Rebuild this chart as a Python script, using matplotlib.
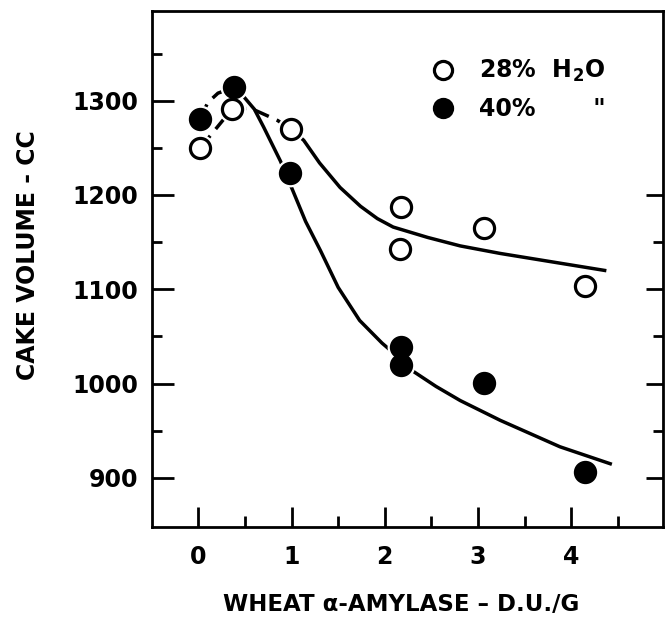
import numpy as np
import matplotlib.pyplot as plt

plt.rcParams['font.family'] = ['DejaVu Sans']
plt.rcParams['font.weight'] = 'bold'
plt.rcParams['mathtext.fontset'] = 'custom'
plt.rcParams['mathtext.rm'] = 'DejaVu Sans:bold'
plt.rcParams['mathtext.it'] = 'DejaVu Sans:bold'
plt.rcParams['mathtext.bf'] = 'DejaVu Sans:bold'

# puntos medidos
x28 = [0.02, 0.36, 0.99, 2.17, 2.16, 3.07, 4.15]
y28 = [1250, 1291, 1270, 1187, 1143, 1165, 1104]
x40 = [0.02, 0.38, 0.98, 2.17, 2.17, 3.07, 4.15]
y40 = [1281, 1314, 1223, 1039, 1020, 1001, 906]

# curvas trazadas a mano
c28_dash_x = [0.02, 0.36, 0.56, 0.74, 0.85, 0.99]
c28_dash_y = [1250, 1291, 1292, 1284, 1279, 1270]
c28_x = [0.99, 1.13, 1.30, 1.52, 1.74, 1.92, 2.09, 2.46, 2.81, 3.24, 3.80, 4.36]
c28_y = [1270, 1258, 1234, 1208, 1188, 1175, 1166, 1155, 1146, 1138, 1129, 1120]
c40_dash_x = [0.02, 0.10, 0.21, 0.38]
c40_dash_y = [1281, 1298, 1308, 1314]
c40_x = [0.38, 0.48, 0.60, 0.70, 0.80, 0.88, 1.02, 1.15, 1.31, 1.50, 1.73, 1.97,
         2.17, 2.29, 2.55, 2.81, 3.24, 3.88, 4.42]
c40_y = [1314, 1305, 1291, 1272, 1252, 1236, 1203, 1172, 1141, 1102, 1067, 1043,
         1026, 1014, 997, 982, 961, 933, 915]

xticks = [0, 1, 2, 3, 4]
xminor = [0.5, 1.5, 2.5, 3.5, 4.5]
yticks = [900, 1000, 1100, 1200, 1300]
yminor = [950, 1050, 1150, 1250, 1350]
yticks_right = [900, 1000, 1100, 1200]
yminor_right = [950, 1050, 1150]

fig = plt.figure(figsize=(6.66, 6.17), dpi=100)
ax = fig.add_axes([0.228, 0.146, 0.768, 0.836])

lw = 2.5
ax.plot(c28_dash_x, c28_dash_y, color='black', lw=lw, dashes=(4.5, 2.5), zorder=2)
ax.plot(c28_x, c28_y, color='black', lw=lw, zorder=2, solid_joinstyle='round')
ax.plot(c40_dash_x, c40_dash_y, color='black', lw=lw, dashes=(4.5, 2.5), zorder=2)
ax.plot(c40_x, c40_y, color='black', lw=lw, zorder=2, solid_joinstyle='round')

# halo blanco para separar la linea de los circulos
ax.plot(x28 + x40, y28 + y40, 'o', ms=19, color='white', zorder=3)
h28, = ax.plot(x28, y28, 'o', ms=14.5, mfc='white', mec='black', mew=2.3, zorder=4)
h40, = ax.plot(x40, y40, 'o', ms=14.5, mfc='black', mec='black', mew=2.3, zorder=4)

ax.set_xlim(-0.5, 4.99)
ax.set_ylim(848, 1395)
ax.set_xticks(xticks)
ax.set_xticks(xminor, minor=True)
ax.set_yticks(yticks)
ax.set_yticks(yminor, minor=True)
ax.set_xticklabels([str(v) for v in xticks])
ax.set_yticklabels([str(v) for v in yticks])

ax.tick_params(axis='both', which='both', direction='in', width=2, labelsize=17)
ax.tick_params(axis='y', which='major', length=16, pad=10)
ax.tick_params(axis='y', which='minor', length=7.5)
ax.tick_params(axis='x', which='major', length=14.5, pad=13)
ax.tick_params(axis='x', which='minor', length=8)
for s in ax.spines.values():
    s.set_linewidth(2)

ax2 = ax.twinx()
ax2.set_ylim(ax.get_ylim())
ax2.set_yticks(yticks_right)
ax2.set_yticks(yminor_right, minor=True)
ax2.tick_params(axis='y', which='both', direction='in', width=2, labelright=False)
ax2.tick_params(axis='y', which='major', length=12)
ax2.tick_params(axis='y', which='minor', length=7)
for s in ax2.spines.values():
    s.set_visible(False)

ax.set_xlabel('WHEAT α-AMYLASE – D.U./G', fontsize=16.5, fontweight='bold')
ax.xaxis.set_label_coords(0.487, -0.128)
ax.set_ylabel('CAKE VOLUME - CC', fontsize=17, fontweight='bold')
ax.yaxis.set_label_coords(-0.219, 0.527)

ax.legend([h28, h40], ['28%  H$_2$O', '40%       "'], loc='upper left',
          bbox_to_anchor=(0.505, 0.95), frameon=False, fontsize=17,
          handlelength=1.0, handletextpad=1.0, labelspacing=0.55, markerscale=0.9)

plt.savefig('out.png', dpi=100)
